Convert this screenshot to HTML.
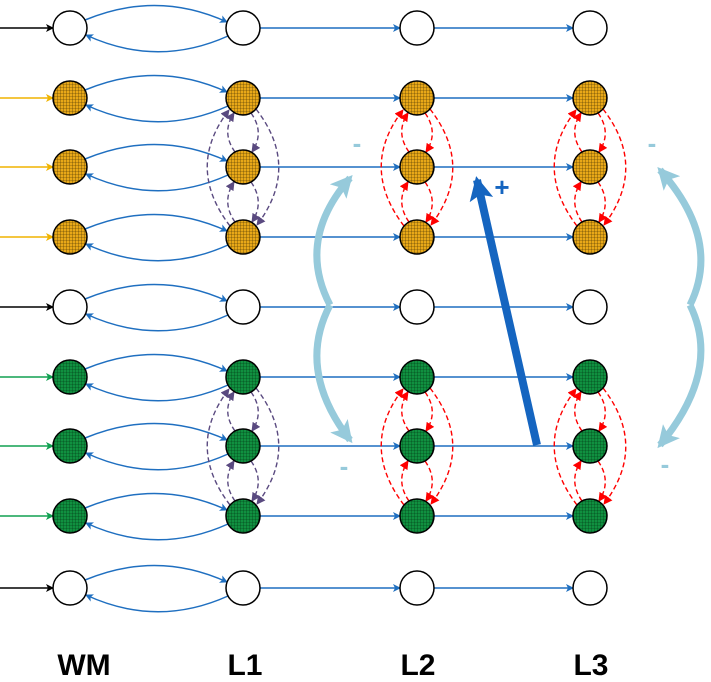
<!DOCTYPE html>
<html><head><meta charset="utf-8"><style>
html,body{margin:0;padding:0;background:#fff;}
svg{display:block;}
text{font-family:"Liberation Sans",sans-serif;font-weight:bold;}
</style></head><body>
<svg width="711" height="682" viewBox="0 0 711 682" xmlns="http://www.w3.org/2000/svg">
<defs>
<pattern id="po" width="3" height="3" patternUnits="userSpaceOnUse"><rect width="3" height="3" fill="#e8a818"/><path d="M0 0H3M0 0V3" stroke="#3a2a00" stroke-width="0.6"/></pattern>
<pattern id="pg" width="3" height="3" patternUnits="userSpaceOnUse"><rect width="3" height="3" fill="#109040"/><path d="M0 0H3M0 0V3" stroke="#003010" stroke-width="0.6"/></pattern>
<marker id="ab" markerWidth="8" markerHeight="8" refX="7" refY="4" orient="auto" markerUnits="userSpaceOnUse"><path d="M0 0L8 4L0 8L2 4Z" fill="#1f6fc0"/></marker>
<marker id="ak" markerWidth="8" markerHeight="8" refX="7" refY="4" orient="auto" markerUnits="userSpaceOnUse"><path d="M0 0L8 4L0 8L2 4Z" fill="#000"/></marker>
<marker id="ay" markerWidth="8" markerHeight="8" refX="7" refY="4" orient="auto" markerUnits="userSpaceOnUse"><path d="M0 0L8 4L0 8L2 4Z" fill="#f0b400"/></marker>
<marker id="agn" markerWidth="8" markerHeight="8" refX="7" refY="4" orient="auto" markerUnits="userSpaceOnUse"><path d="M0 0L8 4L0 8L2 4Z" fill="#10a050"/></marker>
<marker id="ap" markerWidth="9" markerHeight="9" refX="8" refY="4.5" orient="auto" markerUnits="userSpaceOnUse"><path d="M0 0L9 4.5L0 9Z" fill="#5a4a80"/></marker>
<marker id="ar" markerWidth="9" markerHeight="9" refX="8" refY="4.5" orient="auto" markerUnits="userSpaceOnUse"><path d="M0 0L9 4.5L0 9Z" fill="#f00"/></marker>
<marker id="alb" markerWidth="22" markerHeight="22" refX="18" refY="11" orient="auto" markerUnits="userSpaceOnUse"><path d="M0 0L22 11L0 22L5 11Z" fill="#96cadb"/></marker>
<marker id="abb" markerWidth="24" markerHeight="24" refX="20" refY="12" orient="auto" markerUnits="userSpaceOnUse"><path d="M0 0L24 12L0 24L5 12Z" fill="#1565c0"/></marker>
</defs>
<g id="all"></g>
<script>
(function(){
var svg=document.getElementById('all');var ns='http://www.w3.org/2000/svg';
function el(t,a){var e=document.createElementNS(ns,t);for(var k in a)e.setAttribute(k,a[k]);svg.appendChild(e);return e;}
var X=[70,243,417,590],Y=[28,98,167,237,307,377,446,516,588],r=17;
var type=['w','o','o','o','w','g','g','g','w'];
var inC={w:['#000','ak'],o:['#f0b400','ay'],g:['#10a050','agn']};
for(var i=0;i<9;i++){var y=Y[i],t=type[i];
 el('line',{x1:0,y1:y,x2:X[0]-r,y2:y,stroke:inC[t][0],'stroke-width':1.5,'marker-end':'url(#'+inC[t][1]+')'});
 el('path',{d:'M'+(X[0]+15)+' '+(y-8)+' Q157 '+(y-38)+' '+(X[1]-16)+' '+(y-6),fill:'none',stroke:'#1f6fc0','stroke-width':1.5,'marker-end':'url(#ab)'});
 el('path',{d:'M'+(X[1]-15)+' '+(y+8)+' Q157 '+(y+40)+' '+(X[0]+16)+' '+(y+7),fill:'none',stroke:'#1f6fc0','stroke-width':1.5,'marker-end':'url(#ab)'});
 for(var j=1;j<3;j++)el('line',{x1:X[j]+r,y1:y,x2:X[j+1]-r,y2:y,stroke:'#1f6fc0','stroke-width':1.5,'marker-end':'url(#ab)'});
}
function dashes(cx,rows,col,mk){
 var a=Y[rows[0]],b=Y[rows[1]],c=Y[rows[2]];
 var s={fill:'none',stroke:col,'stroke-width':1.4,'stroke-dasharray':'5,3','marker-end':'url(#'+mk+')'};
 [[a,b],[b,c]].forEach(function(p){
  var o=Object.assign({},s);o.d='M'+(cx+8)+' '+(p[0]+15)+' Q'+(cx+22)+' '+((p[0]+p[1])/2)+' '+(cx+9)+' '+(p[1]-15);el('path',o);
  o=Object.assign({},s);o.d='M'+(cx-8)+' '+(p[1]-15)+' Q'+(cx-22)+' '+((p[0]+p[1])/2)+' '+(cx-9)+' '+(p[0]+15);el('path',o);
 });
 var o=Object.assign({},s);o.d='M'+(cx+13)+' '+(a+11)+' Q'+(cx+58)+' '+b+' '+(cx+14)+' '+(c-12);el('path',o);
 o=Object.assign({},s);o.d='M'+(cx-13)+' '+(c-11)+' Q'+(cx-58)+' '+b+' '+(cx-14)+' '+(a+12);el('path',o);
}
dashes(X[1],[1,2,3],'#5a4a80','ap');dashes(X[1],[5,6,7],'#5a4a80','ap');
for(var j=2;j<4;j++){dashes(X[j],[1,2,3],'#f00','ar');dashes(X[j],[5,6,7],'#f00','ar');}
for(var i=0;i<9;i++)for(var j=0;j<4;j++){var t=type[i];
 el('circle',{cx:X[j],cy:Y[i],r:r,fill:t=='w'?'#fff':(t=='o'?'url(#po)':'url(#pg)'),stroke:'#000','stroke-width':1.5});}
// light blue arcs
var lb={fill:'none',stroke:'#96cadb','stroke-width':7};
var p=Object.assign({},lb,{d:'M330 305 Q296 240 350 178','marker-end':'url(#alb)'});el('path',p);
p=Object.assign({},lb,{d:'M330 305 Q296 370 350 440','marker-end':'url(#alb)'});el('path',p);
p=Object.assign({},lb,{d:'M690 305 Q722 240 660 170','marker-end':'url(#alb)'});el('path',p);
p=Object.assign({},lb,{d:'M690 305 Q722 370 660 445','marker-end':'url(#alb)'});el('path',p);
el('line',{x1:537,y1:445,x2:477,y2:180,stroke:'#1565c0','stroke-width':8,'marker-end':'url(#abb)'});
function tx(x,y,s,c,f){var e=el('text',{x:x,y:y,'font-size':f,fill:c,'text-anchor':'middle'});e.textContent=s;}
tx(357,152,'-','#96cadb',26);tx(344,475,'-','#96cadb',26);tx(652,152,'-','#96cadb',26);tx(665,473,'-','#96cadb',26);
tx(502,196,'+','#1565c0',26);
tx(84,675,'WM','#000',30);tx(245,675,'L1','#000',30);tx(418,675,'L2','#000',30);tx(591,675,'L3','#000',30);
})();
</script>
</svg>
</body></html>
